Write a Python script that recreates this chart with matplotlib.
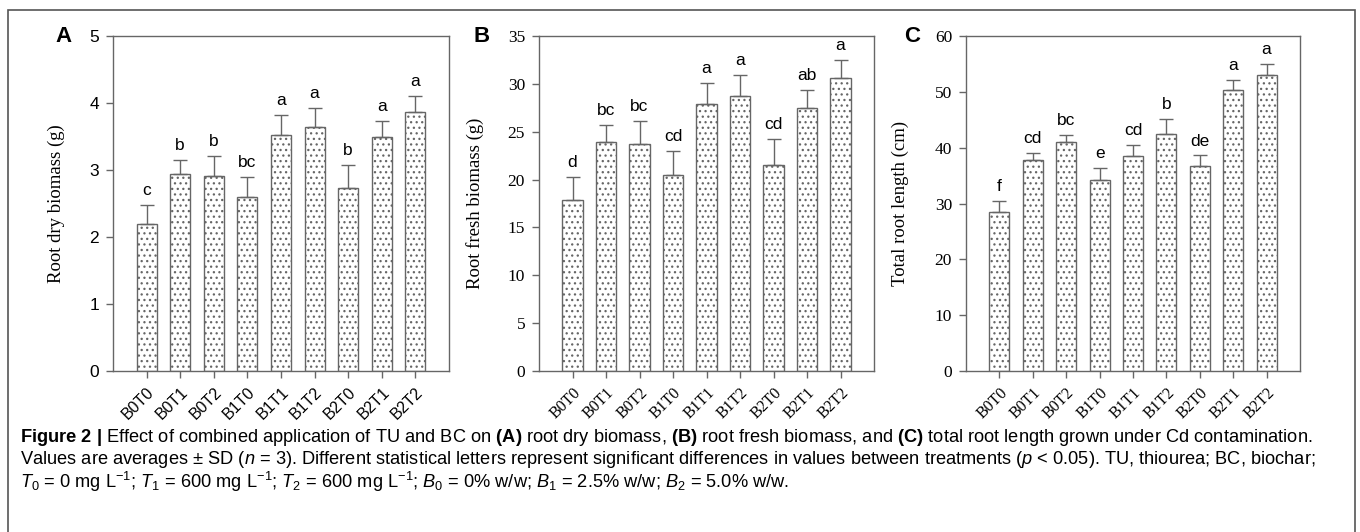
import numpy as np
import matplotlib
matplotlib.use('Agg')
import matplotlib.pyplot as plt
from matplotlib import font_manager
from matplotlib.patches import Rectangle

# treatments and values (mean, SD, letters)
treatments = ['B0T0', 'B0T1', 'B0T2', 'B1T0', 'B1T1', 'B1T2', 'B2T0', 'B2T1', 'B2T2']

dry_mean = [2.20, 2.94, 2.91, 2.60, 3.52, 3.64, 2.73, 3.49, 3.87]
dry_sd = [0.28, 0.21, 0.30, 0.30, 0.30, 0.28, 0.34, 0.24, 0.24]
dry_letters = ['c', 'b', 'b', 'bc', 'a', 'a', 'b', 'a', 'a']

fresh_mean = [17.9, 23.9, 23.7, 20.5, 27.9, 28.7, 21.5, 27.5, 30.6]
fresh_sd = [2.4, 1.8, 2.4, 2.5, 2.2, 2.2, 2.7, 1.9, 1.9]
fresh_letters = ['d', 'bc', 'bc', 'cd', 'a', 'a', 'cd', 'ab', 'a']

length_mean = [28.4, 37.8, 41.1, 34.2, 38.5, 42.4, 36.8, 50.4, 53.1]
length_sd = [2.0, 1.2, 1.1, 2.2, 2.0, 2.7, 1.8, 1.8, 1.9]
length_letters = ['f', 'cd', 'bc', 'e', 'cd', 'b', 'de', 'a', 'a']

caption = [
    r'$\mathbf{Figure\ 2\ |}$ Effect of combined application of TU and BC on $\mathbf{(A)}$ root dry biomass, '
    r'$\mathbf{(B)}$ root fresh biomass, and $\mathbf{(C)}$ total root length grown under Cd contamination.',
    r'Values are averages $\pm$ SD ($n$ = 3). Different statistical letters represent significant differences '
    r'in values between treatments ($p$ < 0.05). TU, thiourea; BC, biochar;',
    r'$T_0$ = 0 mg L$^{-1}$; $T_1$ = 600 mg L$^{-1}$; $T_2$ = 600 mg L$^{-1}$; '
    r'$B_0$ = 0% w/w; $B_1$ = 2.5% w/w; $B_2$ = 5.0% w/w.',
]

installed = {f.name for f in font_manager.fontManager.ttflist}
cap_font = 'Liberation Sans Narrow' if 'Liberation Sans Narrow' in installed else 'Liberation Sans'
SANS = 'Liberation Sans'
SERIF = 'Liberation Serif'

plt.rcParams['mathtext.fontset'] = 'custom'
plt.rcParams['mathtext.rm'] = cap_font
plt.rcParams['mathtext.it'] = cap_font + ':italic'
plt.rcParams['mathtext.bf'] = cap_font + ':bold'
plt.rcParams['hatch.color'] = '#a8a8a8'
plt.rcParams['hatch.linewidth'] = 0.9

edge = '#666666'

fig = plt.figure(figsize=(13.6, 5.32), dpi=100)
W, H = 1360., 532.

# outer frame of the figure panel
fig.patches.append(Rectangle((8 / W, -0.1), (1355 - 8) / W, 1.1 - 10 / H,
                             transform=fig.transFigure, fill=False,
                             edgecolor='#555555', lw=1.2, clip_on=False))

panels = [
    dict(left=113, width=336, mean=dry_mean, sd=dry_sd, letters=dry_letters,
         ymax=5, step=1, ylabel='Root dry biomass (g)', tickfont=SANS,
         lab_x=-0.143, tag='A', tag_x=64),
    dict(left=539, width=335, mean=fresh_mean, sd=fresh_sd, letters=fresh_letters,
         ymax=35, step=5, ylabel='Root fresh biomass (g)', tickfont=SERIF,
         lab_x=-0.165, tag='B', tag_x=482),
    dict(left=966, width=334, mean=length_mean, sd=length_sd, letters=length_letters,
         ymax=60, step=10, ylabel='Total root length (cm)', tickfont=SERIF,
         lab_x=-0.172, tag='C', tag_x=912),
]

x = np.arange(len(treatments))
for p in panels:
    ax = fig.add_axes([p['left'] / W, (H - 371) / H, p['width'] / W, 335 / H])
    ax.bar(x, p['mean'], width=0.6, color='white', edgecolor=edge, lw=1.0,
           hatch='...', zorder=2)
    ax.errorbar(x, p['mean'], yerr=[np.zeros(len(x)), p['sd']], fmt='none',
                ecolor=edge, elinewidth=1.0, capsize=5, capthick=1.0, zorder=3)
    for xi, m, s, lab in zip(x, p['mean'], p['sd'], p['letters']):
        ax.annotate(lab, (xi, m + s), xytext=(0, 5), textcoords='offset points',
                    ha='center', va='bottom', fontsize=12.5, family=SANS)
    ax.set_xlim(-1, 9)
    ax.set_ylim(0, p['ymax'])
    ax.set_yticks(np.arange(0, p['ymax'] + 0.1, p['step']))
    ax.set_xticks(x)
    ax.set_xticklabels(treatments, rotation=45, ha='right', rotation_mode='anchor',
                       fontsize=11.5, family=p['tickfont'])
    for t in ax.get_yticklabels():
        t.set_family(p['tickfont'])
        t.set_fontsize(12.5)
    ax.tick_params(direction='out', length=5, width=1.0, color=edge, pad=5)
    for sp in ax.spines.values():
        sp.set_color(edge)
        sp.set_linewidth(1.0)
    ax.set_ylabel(p['ylabel'], family=SERIF, fontsize=13.5)
    ax.yaxis.set_label_coords(p['lab_x'], 0.5)
    fig.text(p['tag_x'] / W, 1 - 37 / H, p['tag'], fontsize=16, weight='bold',
             family=SANS, ha='center', va='center')

# caption, sized so the first line spans the frame width
texts = []
for i, line in enumerate(caption):
    texts.append(fig.text(20 / W, 1 - (438 + 22 * i) / H, line, fontsize=11,
                          family=cap_font, va='center', ha='left'))
fig.canvas.draw()
r = fig.canvas.get_renderer()
w0 = texts[0].get_window_extent(r).width
scale = 1290. / w0
for t in texts:
    t.set_fontsize(11 * scale)

fig.savefig('out.png', dpi=100)
